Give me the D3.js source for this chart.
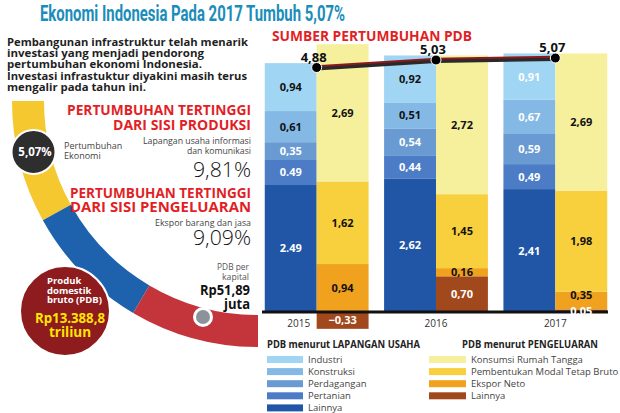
<!DOCTYPE html>
<html><head><meta charset="utf-8">
<script src="https://cdn.jsdelivr.net/npm/d3@7"></script>
<style>
body{margin:0;background:#fff;}
svg{display:block;font-family:"Open Sans","Noto Sans",sans-serif;}
</style>
</head><body>
<svg id="c" width="620" height="413"></svg>
<script>
// ---------- DATA ----------
const years = ["2015", "2016", "2017"];
// PDB menurut lapangan usaha
const industri    = [0.94, 0.92, 0.91];
const konstruksi  = [0.61, 0.51, 0.67];
const perdagangan = [0.35, 0.54, 0.59];
const pertanian   = [0.49, 0.44, 0.49];
const lainnyaLU   = [2.49, 2.62, 2.41];
// PDB menurut pengeluaran
const konsumsiRT  = [2.69, 2.72, 2.69];
const pmtb        = [1.62, 1.45, 1.98];
const eksporNeto  = [0.94, 0.16, 0.35];
const lainnyaPg   = [-0.33, 0.70, 0.05];
// growth line
const growth = [4.88, 5.03, 5.07];

const luKeys  = ["Lainnya", "Pertanian", "Perdagangan", "Konstruksi", "Industri"]; // bottom -> top
const luLegend = ["Industri", "Konstruksi", "Perdagangan", "Pertanian", "Lainnya"];
const pgKeys  = ["Lainnya", "Ekspor Neto", "Pembentukan Modal Tetap Bruto", "Konsumsi Rumah Tangga"];
const pgLegend = ["Konsumsi Rumah Tangga", "Pembentukan Modal Tetap Bruto", "Ekspor Neto", "Lainnya"];

const luColors = {"Industri":"#a0d6f3","Konstruksi":"#84b8e5","Perdagangan":"#6a9ad2","Pertanian":"#4b7cc5","Lainnya":"#2156a6"};
const pgColors = {"Konsumsi Rumah Tangga":"#f6ef9c","Pembentukan Modal Tetap Bruto":"#f8cf3d","Ekspor Neto":"#f0a11d","Lainnya":"#a1481c"};
// labels printed in black (others white)
const luDarkLabel = {"Industri":[1,1,0],"Konstruksi":[1,1,0],"Perdagangan":[0,0,0],"Pertanian":[0,0,0],"Lainnya":[0,0,0]};
// labels that use a decimal point in the original
const dotLabels = ["2015|Pertanian", "2015|Lainnya"];

// decorative arc (angles in degrees below the horizontal, from left)
const arcStops  = [0, 29, 59.5, 90];
const arcColors = ["#f6c830", "#1e62ad", "#c3353b"];

// ---------- SETUP ----------
const svg = d3.select("#c");

const luRows = years.map((yr, i) => ({year: yr, "Industri": industri[i], "Konstruksi": konstruksi[i],
  "Perdagangan": perdagangan[i], "Pertanian": pertanian[i], "Lainnya": lainnyaLU[i]}));
const pgRows = years.map((yr, i) => ({year: yr, "Konsumsi Rumah Tangga": konsumsiRT[i],
  "Pembentukan Modal Tetap Bruto": pmtb[i], "Ekspor Neto": eksporNeto[i], "Lainnya": lainnyaPg[i]}));

const x = d3.scaleBand().domain(years).range([257, 615]).paddingInner(0.13).paddingOuter(0.065);
const xs = d3.scaleBand().domain(["lu", "pg"]).range([0, x.bandwidth()]);
const y = d3.scaleLinear().domain([0, 5]).range([312, 57]);
const yLine = d3.scaleLinear().domain([0, 5.07]).range([312, 58]);

const fmt = v => d3.format(".2f")(v).replace(".", ",");

// ---------- LEFT DECORATION ----------
const cx = 258, cy = 101, rIn = 214, rOut = 246;
const arcGen = d3.arc().innerRadius(rIn).outerRadius(rOut);
const g0 = svg.append("g").attr("transform", `translate(${cx},${cy})`);
arcColors.forEach((c, i) => {
  const a0 = (270 - arcStops[i]) * Math.PI / 180;
  const a1 = (270 - arcStops[i + 1]) * Math.PI / 180;
  g0.append("path").attr("d", arcGen({startAngle: a1, endAngle: a0})).attr("fill", c);
});

// title
svg.append("text").attr("x", 40).attr("y", 21)
  .attr("font-family", "'Liberation Sans Narrow','Roboto','Open Sans',sans-serif")
  .attr("font-size", 22).attr("font-weight", "bold").attr("fill", "#1b8dba")
  .attr("textLength", 305).attr("lengthAdjust", "spacingAndGlyphs")
  .text("Ekonomi Indonesia Pada 2017 Tumbuh 5,07%");

// paragraph
const para = ["Pembangunan infrastruktur telah menarik", "investasi yang menjadi pendorong",
  "pertumbuhan ekonomi Indonesia.", "Investasi infrastuktur diyakini masih terus", "mengalir pada tahun ini."];
const paraW = [241, 197, 195, 240, 139];
para.forEach((t, i) => {
  svg.append("text").attr("x", 7).attr("y", 46 + i * 11.2).attr("font-size", 10.5).attr("font-weight", "bold")
    .attr("fill", "#1f1f1f").attr("textLength", paraW[i]).attr("lengthAdjust", "spacingAndGlyphs").text(t);
});

function rtext(t, xr, yb, size, w, opts) {
  opts = opts || {};
  const el = svg.append("text").attr("y", yb).attr("font-size", size)
    .attr("fill", opts.fill || "#333").attr("font-weight", opts.weight || "normal").text(t);
  if (w) el.attr("x", xr - w).attr("textLength", w).attr("lengthAdjust", "spacingAndGlyphs");
  else el.attr("x", xr).attr("text-anchor", "end");
  return el;
}
const red = "#e21f26";
rtext("PERTUMBUHAN TERTINGGI", 251, 115, 13.5, 184, {fill: red, weight: "bold"});
rtext("DARI SISI PRODUKSI", 251, 130, 13.5, 138, {fill: red, weight: "bold"});
rtext("Lapangan usaha informasi", 251, 144, 9, 108, {fill: "#444"});
rtext("dan komunikasi", 251, 154, 9, 64, {fill: "#444"});
rtext("9,81%", 251, 177, 21, 58, {fill: "#111", weight: 300});
rtext("PERTUMBUHAN TERTINGGI", 251, 198, 13.5, 181, {fill: red, weight: "bold"});
rtext("DARI SISI PENGELUARAN", 251, 212, 13.5, 181, {fill: red, weight: "bold"});
rtext("Ekspor barang dan jasa", 251, 226, 9.5, 96, {fill: "#444"});
rtext("9,09%", 251, 245, 21, 58, {fill: "#111", weight: 300});
rtext("PDB per", 249, 270, 9, 32, {fill: "#555"});
rtext("kapital", 249, 280, 9, 27, {fill: "#555"});
rtext("Rp51,89", 250, 295, 13.5, 50, {fill: "#111", weight: "bold"});
rtext("juta", 250, 309, 13.5, 26, {fill: "#111", weight: "bold"});

// growth circle
svg.append("circle").attr("cx", 33.5).attr("cy", 152).attr("r", 22).attr("fill", "#2e2e2e")
  .attr("stroke", "#fff").attr("stroke-width", 2);
svg.append("text").attr("x", 35).attr("y", 156).attr("text-anchor", "middle").attr("font-size", 11.5)
  .attr("font-weight", "bold").attr("fill", "#fff").text("5,07%");
svg.append("text").attr("x", 64).attr("y", 149).attr("font-size", 9).attr("fill", "#444").text("Pertumbuhan");
svg.append("text").attr("x", 64).attr("y", 159).attr("font-size", 9).attr("fill", "#444").text("Ekonomi");

// PDB circle
svg.append("circle").attr("cx", 65).attr("cy", 311).attr("r", 45).attr("fill", "#8e1b1e")
  .attr("stroke", "#fff").attr("stroke-width", 2);
["Produk", "domestik", "bruto (PDB)"].forEach((t, i) => {
  svg.append("text").attr("x", 47).attr("y", 284 + i * 9.6).attr("font-size", 9.5).attr("font-weight", "bold")
    .attr("fill", "#fff").text(t);
});
svg.append("text").attr("x", 70).attr("y", 323).attr("text-anchor", "middle").attr("font-size", 13.5)
  .attr("font-weight", "bold").attr("fill", "#ffe500").attr("textLength", 70).attr("lengthAdjust", "spacingAndGlyphs").text("Rp13.388,8");
svg.append("text").attr("x", 70).attr("y", 337).attr("text-anchor", "middle").attr("font-size", 13.5)
  .attr("font-weight", "bold").attr("fill", "#ffe500").text("triliun");

// gray dot
svg.append("circle").attr("cx", 203).attr("cy", 317).attr("r", 10).attr("fill", "#fff");
svg.append("circle").attr("cx", 203).attr("cy", 317).attr("r", 7).attr("fill", "#8b9299");

// ---------- CHART ----------
svg.append("text").attr("x", 272).attr("y", 41).attr("font-size", 13.5).attr("font-weight", "bold")
  .attr("fill", red).attr("textLength", 200).attr("lengthAdjust", "spacingAndGlyphs").text("SUMBER PERTUMBUHAN PDB");

const luStack = d3.stack().keys(luKeys).offset(d3.stackOffsetDiverging)(luRows);
const pgStack = d3.stack().keys(pgKeys).offset(d3.stackOffsetDiverging)(pgRows);

const bars = svg.append("g");
luStack.forEach(s => {
  bars.selectAll(null).data(s).join("rect")
    .attr("x", d => x(d.data.year) + xs("lu")).attr("width", xs.bandwidth())
    .attr("y", d => y(d[1])).attr("height", d => y(d[0]) - y(d[1]))
    .attr("fill", luColors[s.key]);
});
pgStack.forEach(s => {
  bars.selectAll(null).data(s).join("rect")
    .attr("x", d => x(d.data.year) + xs("pg")).attr("width", xs.bandwidth())
    .attr("y", d => y(d[1])).attr("height", d => y(d[0]) - y(d[1]))
    .attr("fill", pgColors[s.key]);
});

// baseline
svg.append("line").attr("x1", 262).attr("x2", 608).attr("y1", y(0)).attr("y2", y(0))
  .attr("stroke", "#111").attr("stroke-width", 3);

// segment labels
const lab = svg.append("g").attr("font-size", 11).attr("font-weight", "bold").attr("text-anchor", "middle");
luStack.forEach(s => {
  lab.selectAll(null).data(s).join("text")
    .attr("x", d => x(d.data.year) + xs("lu") + xs.bandwidth() / 2)
    .attr("y", d => y((d[0] + d[1]) / 2)).attr("dy", "0.36em")
    .attr("fill", d => luDarkLabel[s.key][years.indexOf(d.data.year)] ? "#111" : "#fff")
    .text(d => {
      const v = d.data[s.key];
      return dotLabels.includes(d.data.year + "|" + s.key) ? d3.format(".2f")(v) : fmt(v);
    });
});
pgStack.forEach(s => {
  lab.selectAll(null).data(s).join("text")
    .attr("x", d => x(d.data.year) + xs("pg") + xs.bandwidth() / 2)
    .attr("y", d => {
      const h = y(d[0]) - y(d[1]);
      return y((d[0] + d[1]) / 2) - (h < 20 && d[0] > 0 && (y(0) - y(d[0])) < 6 ? 5 : 0);
    })
    .attr("dy", "0.36em")
    .attr("fill", s.key === "Lainnya" ? "#fff" : "#111")
    .text(d => fmt(d.data[s.key]));
});

// year labels
svg.append("g").selectAll("text").data(years).join("text")
  .attr("x", (d, i) => lainnyaPg[i] < 0 ? x(d) + xs("lu") + xs.bandwidth() / 2 + 8 : x(d) + x.bandwidth() / 2)
  .attr("y", 327).attr("text-anchor", "middle").attr("font-size", 10).attr("fill", "#333").text(d => d);

// growth line
const pts = years.map((yr, i) => [x(yr) + x.bandwidth() / 2, yLine(growth[i])]);
const lineGen = d3.line();
svg.append("path").attr("d", lineGen(pts.map(p => [p[0], p[1] + 1]))).attr("fill", "none")
  .attr("stroke", "#2a2a2a").attr("stroke-width", 4);
svg.append("path").attr("d", lineGen(pts.map(p => [p[0], p[1] - 1.2]))).attr("fill", "none")
  .attr("stroke", "#8c1a1c").attr("stroke-width", 2);
svg.append("g").selectAll("circle").data(pts).join("circle")
  .attr("cx", d => d[0]).attr("cy", d => d[1]).attr("r", 5)
  .attr("fill", "#000").attr("stroke", "#fff").attr("stroke-width", 1);
svg.append("g").selectAll("text").data(growth).join("text")
  .attr("x", (d, i) => pts[i][0] - 3).attr("y", (d, i) => pts[i][1] - 6)
  .attr("text-anchor", "middle").attr("font-size", 13).attr("font-weight", "bold").attr("fill", "#111")
  .text(d => fmt(d));

// ---------- LEGEND ----------
const leg = svg.append("g");
leg.append("text").attr("x", 267).attr("y", 348).attr("font-size", 10).attr("font-weight", "bold")
  .attr("fill", "#222").attr("textLength", 153).attr("lengthAdjust", "spacingAndGlyphs").text("PDB menurut LAPANGAN USAHA");
leg.append("text").attr("x", 462).attr("y", 348).attr("font-size", 10).attr("font-weight", "bold")
  .attr("fill", "#222").attr("textLength", 136).attr("lengthAdjust", "spacingAndGlyphs").text("PDB menurut PENGELUARAN");
luLegend.forEach((k, i) => {
  leg.append("rect").attr("x", 267).attr("y", 356 + i * 12.1).attr("width", 36).attr("height", 7).attr("fill", luColors[k]);
  leg.append("text").attr("x", 308).attr("y", 363 + i * 12.1).attr("font-size", 9.5).attr("fill", "#444").text(k);
});
pgLegend.forEach((k, i) => {
  leg.append("rect").attr("x", 429).attr("y", 356 + i * 12.1).attr("width", 37).attr("height", 7).attr("fill", pgColors[k]);
  leg.append("text").attr("x", 471).attr("y", 363 + i * 12.1).attr("font-size", 9.5).attr("fill", "#444").text(k);
});
</script>
</body></html>
